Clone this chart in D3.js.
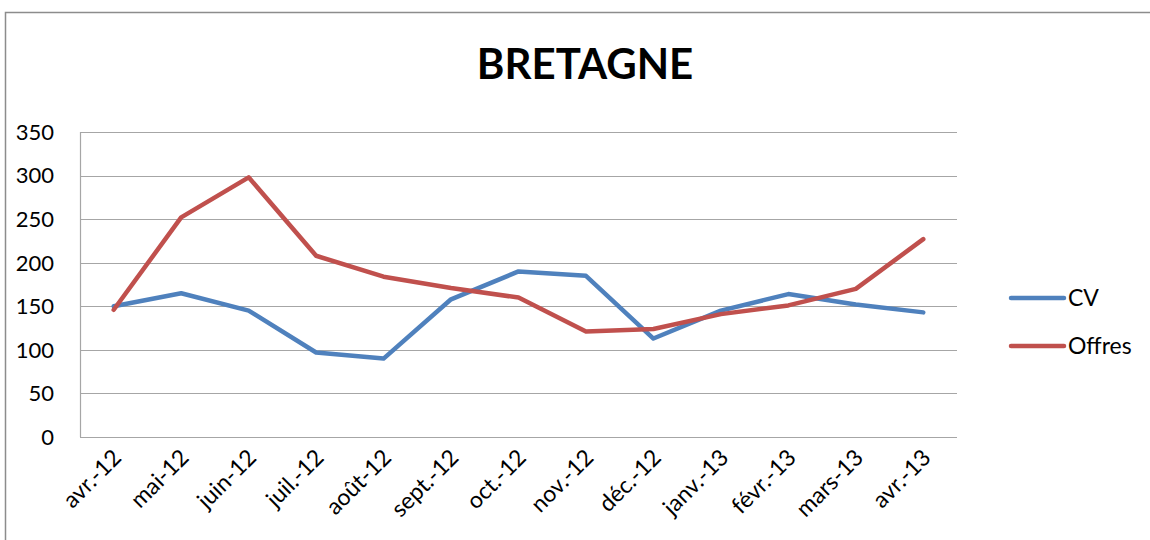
<!DOCTYPE html>
<html>
<head>
<meta charset="utf-8">
<script src="https://cdn.jsdelivr.net/npm/d3@7"></script>
<style>
  body { margin: 0; background: #fff; }
  text { font-family: Lato, "Open Sans", sans-serif; fill: #000; }
</style>
</head>
<body>
<div id="container"></div>
<script>
const width = 1150;
const height = 540;

const months = ["avr.-12", "mai-12", "juin-12", "juil.-12", "août-12", "sept.-12", "oct.-12",
    "nov.-12", "déc.-12", "janv.-13", "févr.-13", "mars-13", "avr.-13"];
const cv = [150, 165, 145, 97, 90, 158, 190, 185, 113, 145, 164, 152, 143];
const offres = [146, 252, 298, 208, 184, 171, 160, 121, 124, 141, 151, 170, 227];
const yTicks = [0, 50, 100, 150, 200, 250, 300, 350];

const series = [
    { name: "CV", values: cv, color: "#4F81BD" },
    { name: "Offres", values: offres, color: "#C0504D" }
];

const margin = { left: 80, right: 193, top: 132, bottom: 103 };

const svg = d3.select("#container").append("svg")
    .attr("width", width)
    .attr("height", height);

// chart frame
svg.append("path")
    .attr("d", `M5.5,${height} V12.5 H${width}`)
    .attr("fill", "none")
    .attr("stroke", "#8c8c8c")
    .attr("stroke-width", 1.5);

svg.append("text")
    .attr("x", 585)
    .attr("y", 79)
    .attr("text-anchor", "middle")
    .attr("font-size", 42)
    .attr("font-weight", "bold")
    .text("BRETAGNE");

const x = d3.scaleBand()
    .domain(months)
    .range([margin.left, width - margin.right]);

const y = d3.scaleLinear()
    .domain([0, 350])
    .range([height - margin.bottom, margin.top]);

// gridlines
svg.append("g")
    .selectAll("line")
    .data(yTicks)
    .enter()
    .append("line")
    .attr("x1", margin.left)
    .attr("x2", width - margin.right)
    .attr("y1", d => Math.round(y(d)) + 0.5)
    .attr("y2", d => Math.round(y(d)) + 0.5)
    .attr("stroke", "#a6a6a6")
    .attr("stroke-width", 1.2);

svg.append("line")
    .attr("x1", margin.left + 0.5)
    .attr("x2", margin.left + 0.5)
    .attr("y1", y(350))
    .attr("y2", y(0))
    .attr("stroke", "#a6a6a6")
    .attr("stroke-width", 1.2);

// y labels
svg.append("g")
    .selectAll("text")
    .data(yTicks)
    .enter()
    .append("text")
    .attr("x", 54)
    .attr("y", d => y(d))
    .attr("dy", "0.36em")
    .attr("text-anchor", "end")
    .attr("font-size", 22)
    .text(d => d);

// x labels
svg.append("g")
    .selectAll("text")
    .data(months)
    .enter()
    .append("text")
    .attr("transform", d => `translate(${x(d) + x.bandwidth() / 2 + 9},${y(0) + 22}) rotate(-45)`)
    .attr("text-anchor", "end")
    .attr("font-size", 23)
    .text(d => d);

const line = d3.line()
    .x((d, i) => x(months[i]) + x.bandwidth() / 2)
    .y(d => y(d));

svg.append("g")
    .selectAll("path")
    .data(series)
    .enter()
    .append("path")
    .attr("d", d => line(d.values))
    .attr("fill", "none")
    .attr("stroke", d => d.color)
    .attr("stroke-width", 4.5)
    .attr("stroke-linejoin", "round")
    .attr("stroke-linecap", "round");

// legend
const legend = svg.append("g")
    .selectAll("g")
    .data(series)
    .enter()
    .append("g")
    .attr("transform", (d, i) => `translate(1011,${298 + i * 48})`);

legend.append("line")
    .attr("x1", 0)
    .attr("x2", 53)
    .attr("stroke", d => d.color)
    .attr("stroke-width", 4.5)
    .attr("stroke-linecap", "round");

legend.append("text")
    .attr("x", 57)
    .attr("dy", "0.36em")
    .attr("font-size", 23)
    .text(d => d.name);
</script>
</body>
</html>
